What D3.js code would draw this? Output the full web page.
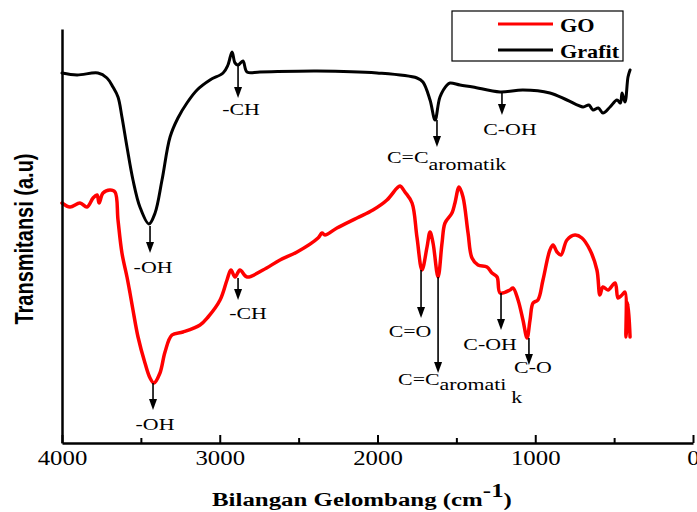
<!DOCTYPE html>
<html><head><meta charset="utf-8">
<script src="https://cdn.jsdelivr.net/npm/d3@7"></script>
<style>body{margin:0;background:#fff;} svg{display:block;}</style>
</head><body>
<svg id="chart" width="697" height="512"></svg>
<script>
// ---------- data ----------
const grafitWave = [4000,3905,3772,3715,3677,3645,3620,3588,3550,3506,3449,3410,3366,3315,3265,3208,3144,3062,2979,2948,2922,2903,2884,2853,2827,2745,2384,2003,1750,1712,1667,1635,1604,1559,1540,1477,1395,1223,1078,907,799,697,660,634,600,571,526,482,460,450,431,412,399];
const grafitT    = [370,368,370,365,356,346,326,296,263,236,219,230,263,306,325,340,353,363,370,378,391,380,378,382,371,371,372,370,365,361,343,323,346,358,360,358,356,351,353,350,343,336,338,333,335,330,336,343,340,350,341,366,373];

const goWave = [4000,3949,3886,3842,3803,3778,3765,3740,3696,3664,3645,3620,3588,3569,3550,3518,3474,3442,3417,3379,3347,3303,3233,3125,3074,2998,2954,2929,2903,2872,2827,2726,2618,2510,2377,2352,2333,2257,2130,2029,1940,1876,1857,1826,1781,1750,1718,1686,1667,1648,1616,1591,1572,1528,1509,1483,1458,1426,1401,1363,1306,1274,1242,1223,1160,1141,1109,1078,1052,1033,1014,983,951,907,887,862,837,799,748,704,653,609,590,571,539,494,475,450,431,425,412,399];
const goT    = [240,236,240,236,245,248,240,250,253,251,223,190,166,150,133,106,80,65,60,70,91,108,111,118,126,143,163,173,166,173,166,173,183,191,205,210,208,215,225,233,243,255,257,251,240,206,173,196,211,200,166,200,220,230,240,256,246,210,185,178,176,170,166,150,153,155,143,123,105,123,140,143,163,193,198,191,188,203,208,205,193,173,148,156,153,160,145,148,151,106,140,106];

const seriesNames = ["GO", "Grafit"];
const xTicks = [4000, 3000, 2000, 1000, 0];
const xTickLabels = ["4000", "3000", "2000", "1000", "0"];
const xMinorTicks = [3500, 2500, 1500, 500];

// peak annotations (wavenumber, curve value, arrow tip value)
const annLabels = ["-OH", "-CH", "C=C", "C-OH", "-CH", "-OH", "C=O", "C=C", "C-OH", "C-O"];
const annSubs   = ["", "", "aromatik", "", "", "", "", "aromati", "", ""];
const annWave   = [3442, 2884, 1623, 1211, 2884, 3423, 1724, 1616, 1217, 1040];
const annFrom   = [217, 378, 323, 351, 165, 60, 173, 166, 150, 105];
const annTo     = [190, 345, 296, 328, 143, 33, 125, 70, 113, 78];

// ---------- layout ----------
const labelDx = [3, 3, -50, 8, 10, 2, -11, -40, -11, 4];
const labelDy = [20, 17, 16, 20, 19, 20, 19, 12, 20, 8];
const SX = 1.25; // horizontal text stretch
const serif = "'Liberation Serif', 'Times New Roman', serif";

const svg = d3.select("#chart");
const x = d3.scaleLinear().domain([4000, 0]).range([62, 693]);
const y = d3.scaleLinear().domain([0, 414]).range([443, 29]);

const line = d3.line().x(d => x(d[0])).y(d => y(d[1])).curve(d3.curveCatmullRom.alpha(0.5));

const grafitData = grafitWave.map((w, i) => [w, grafitT[i]]);
const goData = goWave.map((w, i) => [w, goT[i]]);

svg.append("path").datum(grafitData).attr("d", line)
  .attr("fill", "none").attr("stroke", "#000").attr("stroke-width", 3)
  .attr("stroke-linejoin", "round").attr("stroke-linecap", "round");
svg.append("path").datum(goData).attr("d", line)
  .attr("fill", "none").attr("stroke", "#ff0000").attr("stroke-width", 3.5)
  .attr("stroke-linejoin", "round").attr("stroke-linecap", "round");

// axes
const xAxis = svg.append("g").attr("transform", "translate(0,443)")
  .call(d3.axisBottom(x).tickValues(xTicks).tickSizeInner(-8).tickSizeOuter(0)
    .tickFormat((d, i) => xTickLabels[i]));
xAxis.attr("font-family", serif).attr("font-size", 20);
xAxis.select(".domain").attr("stroke-width", 2.5);
xAxis.selectAll(".tick line").attr("stroke-width", 2);
xAxis.selectAll(".tick text")
  .attr("y", null).attr("dy", null)
  .attr("transform", `translate(0,22) scale(1.24,1)`)
  .style("font-family", serif)
  .attr("font-size", 20).attr("fill", "#000");

const xMinor = svg.append("g").attr("transform", "translate(0,443)")
  .call(d3.axisBottom(x).tickValues(xMinorTicks).tickSizeInner(-5).tickSizeOuter(0).tickFormat(""));
xMinor.select(".domain").remove();
xMinor.selectAll(".tick line").attr("stroke-width", 2);

const yAxis = svg.append("g").attr("transform", "translate(62,0)")
  .call(d3.axisLeft(y).tickValues([]).tickSizeOuter(0));
yAxis.select(".domain").attr("stroke-width", 2.5);

// axis titles
const xt = svg.append("text")
  .style("font-family", serif)
  .attr("font-weight", "bold").attr("font-size", 19.5).attr("fill", "#000");
xt.append("tspan").text("Bilangan Gelombang (cm");
xt.append("tspan").attr("dy", -9).text("-1");
xt.append("tspan").attr("dy", 9).text(")");
const xtw = xt.node().getComputedTextLength();
xt.attr("transform", `translate(212,506) scale(${300 / xtw},1)`);

svg.append("text")
  .attr("transform", `translate(33,239) scale(${SX},1) rotate(-90)`)
  .attr("text-anchor", "middle")
  .style("font-family", "'Liberation Sans', Arial, sans-serif")
  .attr("font-weight", "bold").attr("font-size", 20).attr("fill", "#000")
  .text("Transmitansi (a.u)");

// legend
const legendColors = ["#ff0000", "#000"];
svg.append("rect").attr("x", 452).attr("y", 11).attr("width", 171).attr("height", 50)
  .attr("fill", "#fff").attr("stroke", "#000").attr("stroke-width", 1.2);
seriesNames.forEach((name, i) => {
  const ly = 24 + i * 26;
  svg.append("line").attr("x1", 498).attr("x2", 553).attr("y1", ly).attr("y2", ly)
    .attr("stroke", legendColors[i]).attr("stroke-width", 3);
  svg.append("text")
    .attr("transform", `translate(560,${ly + 7.5}) scale(1.2,1)`)
    .style("font-family", serif)
    .attr("font-weight", "bold").attr("font-size", 18.5).attr("fill", "#000")
    .text(name);
});

// annotations
annLabels.forEach((lab, i) => {
  const ax = x(annWave[i]);
  const y0 = y(annFrom[i]);
  const tip = y(annTo[i]);
  svg.append("line").attr("x1", ax).attr("x2", ax).attr("y1", y0).attr("y2", tip - 8)
    .attr("stroke", "#000").attr("stroke-width", 1.6);
  svg.append("path")
    .attr("d", `M${ax},${tip} L${ax - 4},${tip - 11} L${ax + 4},${tip - 11} Z`)
    .attr("fill", "#000");
  const tx = ax + labelDx[i];
  const ty = tip + labelDy[i];
  const t = svg.append("text")
    .attr("transform", `translate(${tx},${ty}) scale(${SX},1)`)
    .attr("text-anchor", annSubs[i] ? "start" : "middle")
    .style("font-family", serif).attr("font-size", 17.5).attr("fill", "#000");
  t.append("tspan").text(lab);
  if (annSubs[i]) {
    t.append("tspan").attr("dy", annSubs[i] === "aromatik" ? 7 : 5).text(annSubs[i]);
    if (annSubs[i] === "aromati") {
      t.append("tspan").attr("dx", 4).attr("dy", 13).text("k");
    }
  }
});
</script>
</body></html>
